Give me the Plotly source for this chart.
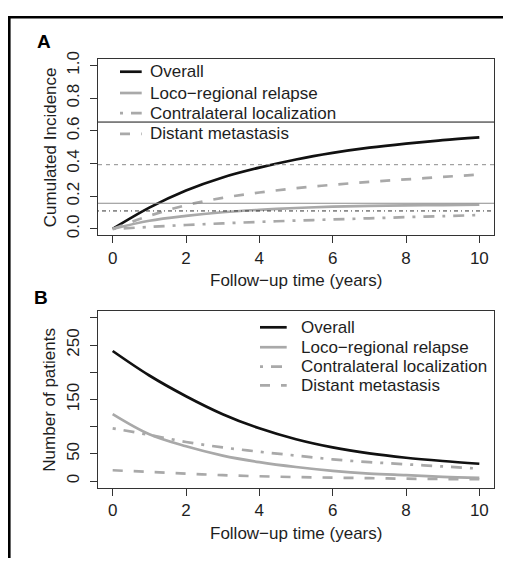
import plotly.graph_objects as go

# ---- data ---------------------------------------------------------------
years = [0, 1, 2, 3, 4, 5, 6, 7, 8, 9, 10]

series_names = ["Overall", "Loco\u2212regional relapse",
                "Contralateral localization", "Distant metastasis"]

# Panel A: cumulated incidence
inc_overall = [0, 0.13, 0.235, 0.315, 0.375, 0.425, 0.465, 0.497, 0.522, 0.543, 0.56]
inc_loco = [0, 0.05, 0.08, 0.102, 0.117, 0.128, 0.136, 0.141, 0.144, 0.146, 0.148]
inc_contra = [0, 0.012, 0.024, 0.034, 0.043, 0.051, 0.058, 0.065, 0.072, 0.078, 0.085]
inc_distant = [0, 0.08, 0.145, 0.19, 0.223, 0.249, 0.27, 0.288, 0.303, 0.318, 0.333]

# Horizontal reference levels drawn across panel A
inc_levels = [0.654, 0.157, 0.110, 0.393]

# Panel B: number of patients
pat_overall = [239, 194, 156, 123, 97, 77, 62, 51, 43, 37, 32]
pat_loco = [123, 86, 64, 47, 35, 26, 19, 14, 11, 8, 6]
pat_contra = [97, 85, 72, 62, 54, 47, 40, 35, 31, 27, 23]
pat_distant = [20, 17, 14, 11, 9, 7.5, 6.5, 5.5, 4.5, 4, 3.5]

x_ticks = [0, 2, 4, 6, 8, 10]
a_ticks = [0, 0.2, 0.4, 0.6, 0.8, 1.0]
a_ticktext = ["0.0", "0.2", "0.4", "0.6", "0.8", "1.0"]
b_ticks = [0, 50, 100, 150, 200, 250, 300]
b_ticktext = ["0", "50", "", "150", "", "250", ""]

# ---- styling ------------------------------------------------------------
W, H = 506, 561
FONT = "Liberation Sans, Arial, Helvetica, sans-serif"
TXT = "#1e1e1e"
BLACK = "#111111"
GREY = "#a9a9a9"
GREY_D = "#8c8c8c"
LW = 2.7

styles = [
    dict(color=BLACK, width=LW, dash="solid"),
    dict(color=GREY, width=LW, dash="solid"),
    dict(color=GREY, width=LW, dash="3px,8px,11px,8px"),
    dict(color=GREY, width=LW, dash="10px,11px"),
]
level_styles = [
    dict(color=BLACK, width=1, dash="solid"),
    dict(color=GREY_D, width=1, dash="solid"),
    dict(color="#333333", width=1, dash="1px,3px,4px,3px"),
    dict(color=GREY_D, width=1, dash="4px,4px"),
]


def px(x):
    return x / W


def py(y):
    return 1 - y / H


fig = go.Figure()

for vals, st, name in zip([inc_overall, inc_loco, inc_contra, inc_distant], styles, series_names):
    fig.add_trace(go.Scatter(x=years, y=vals, mode="lines", name=name,
                             line=dict(shape="spline", smoothing=1, **st),
                             showlegend=False, xaxis="x", yaxis="y"))

for vals, st, name in zip([pat_overall, pat_loco, pat_contra, pat_distant], styles, series_names):
    fig.add_trace(go.Scatter(x=years, y=vals, mode="lines", name=name,
                             line=dict(shape="spline", smoothing=1, **st),
                             showlegend=False, xaxis="x2", yaxis="y2"))

shapes = []
for lvl, st in zip(inc_levels, level_styles):
    shapes.append(dict(type="line", xref="x domain", yref="y", x0=0, x1=1,
                       y0=lvl, y1=lvl, line=st, layer="above"))

# legend keys
def legend(x0, x1, ys, xt):
    out_s, out_a = [], []
    for yy, st, name in zip(ys, styles, series_names):
        out_s.append(dict(type="line", xref="paper", yref="paper",
                          x0=px(x0), x1=px(x1), y0=py(yy), y1=py(yy), line=st))
        out_a.append(dict(text=name, xref="paper", yref="paper", x=px(xt), y=py(yy),
                          xanchor="left", yanchor="middle", showarrow=False,
                          font=dict(size=17, color=TXT, family=FONT)))
    return out_s, out_a

sA, aA = legend(120, 141.7, [65, 86.7, 107.3, 128.3], 147.5)
sB, aB = legend(260, 286.7, [325.7, 346, 365.7, 385], 298.5)
shapes += sA + sB

# outer frame (top and left rules)
shapes.append(dict(type="line", xref="paper", yref="paper", x0=px(8), x1=px(503),
                   y0=py(9.5), y1=py(9.5), line=dict(color="#000", width=2.6)))
shapes.append(dict(type="line", xref="paper", yref="paper", x0=px(9.3), x1=px(9.3),
                   y0=py(8.2), y1=0, line=dict(color="#000", width=2.6)))

annotations = aA + aB
for text, x, y in [("A", 43.8, 34), ("B", 40.8, 295.5)]:
    annotations.append(dict(text="<b>%s</b>" % text, xref="paper", yref="paper",
                            x=px(x), y=py(y), xanchor="center", yanchor="middle",
                            showarrow=False, font=dict(size=19, color="#000", family=FONT)))
for text, x, y, ang in [("Follow\u2212up time (years)", 296, 277.5, 0),
                        ("Follow\u2212up time (years)", 296, 535.5, 0),
                        ("Cumulated Incidence", 50, 142, -90),
                        ("Number of patients", 50, 399.5, -90)]:
    annotations.append(dict(text=text, xref="paper", yref="paper", x=px(x), y=py(y),
                            xanchor="center", yanchor="middle", textangle=ang,
                            showarrow=False, font=dict(size=17, color=TXT, family=FONT)))

axis_common = dict(showline=True, mirror=True, linecolor="#333333", linewidth=1,
                   ticks="outside", ticklen=7, tickcolor="#333333", tickwidth=1,
                   showgrid=False, zeroline=False,
                   tickfont=dict(size=17, color=TXT, family=FONT))

fig.update_layout(
    width=W, height=H,
    margin=dict(l=0, r=0, t=0, b=0),
    paper_bgcolor="white", plot_bgcolor="white",
    xaxis=dict(domain=[px(98), px(494)], anchor="y", range=[-0.4, 10.4],
               tickvals=x_ticks, ticklabelstandoff=0, **axis_common),
    yaxis=dict(domain=[py(232), py(52)], anchor="x", range=[-0.04, 1.04],
               tickvals=a_ticks, ticktext=a_ticktext, tickangle=-90,
               ticklabelstandoff=4, **axis_common),
    xaxis2=dict(domain=[px(98), px(494)], anchor="y2", range=[-0.4, 10.4],
                tickvals=x_ticks, ticklabelstandoff=0, **axis_common),
    yaxis2=dict(domain=[py(489.3), py(309.3)], anchor="x2", range=[-12, 312],
                tickvals=b_ticks, ticktext=b_ticktext, tickangle=-90,
                ticklabelstandoff=4, **axis_common),
    shapes=shapes,
    annotations=annotations,
    showlegend=False,
)

fig.write_html("out.html")
